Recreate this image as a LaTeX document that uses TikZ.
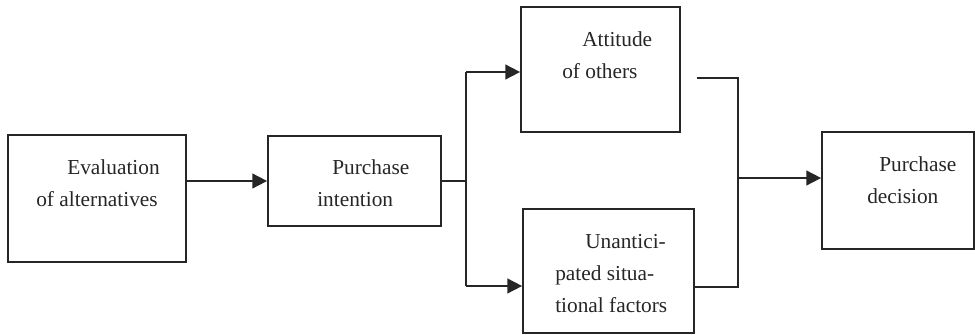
\documentclass[tikz,border=0pt]{standalone}
\usepackage{fontspec}
\setmainfont{Liberation Serif}
\usepackage{tikz}
\usetikzlibrary{arrows.meta, positioning, calc}

\begin{document}
\begin{tikzpicture}[
  x=0.75pt, y=-0.75pt,
  blk/.style={draw=black!85, line width=1.3pt, rectangle, inner sep=0pt},
  txt/.style={inner sep=0pt, anchor=north west, align=left, text=black!85,
    font=\fontsize{16}{24}\selectfont},
  arr/.style={-{Triangle[length=11pt, width=11pt]}, line width=1.3pt, black!85},
  ln/.style={line width=1.3pt, black!85}
]
\useasboundingbox (0,0) rectangle (975,335);

% boxes
\node[blk, minimum width=133.5pt, minimum height=95.25pt] (eval)   at (97,198.5)  {};
\node[blk, minimum width=129.75pt, minimum height=67.5pt] (intent) at (354.5,181) {};
\node[blk, minimum width=119.25pt, minimum height=93.75pt] (attit) at (600.5,69.5) {};
\node[blk, minimum width=128.25pt, minimum height=93pt]   (unant)  at (608.5,271) {};
\node[blk, minimum width=114pt, minimum height=87.75pt]   (decis)  at (898,190.5) {};

% texts
\node[txt] (evalTxt)   at (36,159)  {\hspace{23.25pt}Evaluation\\of alternatives};
\node[txt] (intentTxt) at (317,159) {\hspace{11.25pt}Purchase\\intention};
\node[txt] (attitTxt)  at (562,31)  {\hspace{15pt}Attitude\\of others};
\node[txt] (unantTxt)  at (555,234) {\hspace{22.5pt}Unantici-\\pated situa-\\tional factors};
\node[txt] (decisTxt)  at (867,156) {\hspace{9pt}Purchase\\decision};

% fork and join points
\coordinate (forkL) at (466,180);
\coordinate (forkT) at (466,72);
\coordinate (forkB) at (466,286);
\coordinate (outT)  at (697,78);
\coordinate (joinT) at (738,78);
\coordinate (joinB) at (738,287);
\coordinate (joinM) at (738,178);

% connectors
\draw[arr] (eval.east |- intent.west) -- (intent.west);
\draw[ln] (intent.east) -- (intent.east -| forkL);
\draw[ln] (forkT) -- (forkB);
\draw[arr] (forkT) -- (forkT -| attit.west);
\draw[arr] (forkB) -- (forkB -| unant.west);
\draw[ln] (outT) -- (joinT) -- (joinB) -- (joinB -| unant.east);
\draw[arr] (joinM) -- (joinM -| decis.west);
\end{tikzpicture}
\end{document}
